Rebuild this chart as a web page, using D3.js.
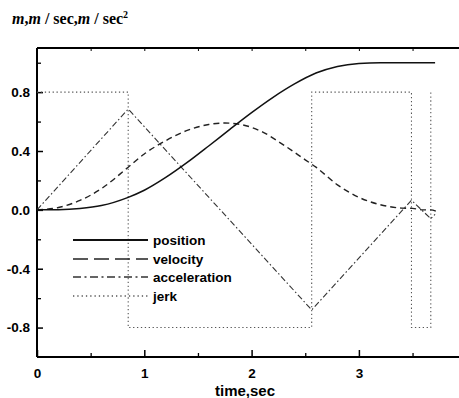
<!DOCTYPE html>
<html><head><meta charset="utf-8">
<script src="https://cdn.jsdelivr.net/npm/d3@7"></script>
<style>body{margin:0;background:#fff}svg{display:block}</style>
</head><body>
<svg id="c" width="459" height="398"></svg>
<script>
// ---- data ----
const seriesNames = ["position", "velocity", "acceleration", "jerk"];
const xTickValues = [0, 1, 2, 3];
const xTickLabels = ["0", "1", "2", "3"];
const yTickValues = [-0.8, -0.4, 0.0, 0.4, 0.8];
const yTickLabels = ["-0.8", "-0.4", "0.0", "0.4", "0.8"];

const tPosition = [0, 0.2, 0.4, 0.6, 0.85, 1.0, 1.2, 1.4, 1.6, 1.8, 2.0, 2.2, 2.4, 2.6, 2.8, 3.0, 3.2, 3.4, 3.71];
const position  = [0, 0.001, 0.009, 0.029, 0.085, 0.133, 0.22, 0.322, 0.434, 0.549, 0.661, 0.765, 0.856, 0.93, 0.975, 0.995, 1.0, 1.0, 1.0];

const tVelocity = [0, 0.2, 0.4, 0.6, 0.85, 1.0, 1.2, 1.4, 1.6, 1.75, 1.9, 2.1, 2.3, 2.5, 2.6, 2.8, 3.0, 3.2, 3.4, 3.5, 3.6, 3.67, 3.72];
const velocity  = [0, 0.016, 0.064, 0.144, 0.29, 0.38, 0.47, 0.54, 0.58, 0.59, 0.58, 0.53, 0.44, 0.34, 0.29, 0.17, 0.085, 0.035, 0.012, 0.01, 0.0, 0.0, -0.01];

const tAcceleration = [0, 0.85, 2.56, 3.49, 3.67, 3.71];
const acceleration  = [0, 0.685, -0.68, 0.065, -0.06, -0.03];

const tJerk = [0, 0.85, 0.85, 2.56, 2.56, 3.49, 3.49, 3.67, 3.67];
const jerk  = [0.8, 0.8, -0.8, -0.8, 0.8, 0.8, -0.8, -0.8, 0.8];

// ---- layout ----
const svg = d3.select("#c");
const L = 37, T = 48, B = 357;
const x = d3.scaleLinear().domain([0, 3.94]).range([L, L + 3.94 * 107.3]);
const y = d3.scaleLinear().domain([-1.0, 1.1]).range([B, T]);

const font = "'Liberation Sans', Arial, sans-serif";

// frame
svg.append("line").attr("x1", L).attr("x2", 460).attr("y1", T).attr("y2", T)
  .attr("stroke", "#000").attr("stroke-width", 1.8);

// axes
const xAxis = d3.axisBottom(x).tickValues(xTickValues).tickFormat((d, i) => xTickLabels[i])
  .tickSizeInner(-7).tickSizeOuter(0).tickPadding(11);
const gx = svg.append("g").attr("transform", `translate(0,${B})`).call(xAxis);
gx.select(".domain").attr("stroke", "#000").attr("stroke-width", 2).attr("d", `M${L},0H460`);
gx.selectAll(".tick line").attr("stroke", "#000").attr("stroke-width", 1.5);
gx.selectAll("text").attr("font-family", font).attr("font-weight", "bold").attr("font-size", 13.5).attr("fill", "#000");

const xMinor = d3.axisBottom(x).tickValues([0.5, 1.5, 2.5, 3.5]).tickFormat("").tickSizeInner(-4).tickSizeOuter(0);
const gxm = svg.append("g").attr("transform", `translate(0,${B})`).call(xMinor);
gxm.select(".domain").remove();
gxm.selectAll(".tick line").attr("stroke", "#000").attr("stroke-width", 1.3);

// top mirrored ticks
const xTop = d3.axisTop(x).tickValues([0.5, 1, 1.5, 2, 2.5, 3, 3.5]).tickFormat("").tickSizeInner(-3).tickSizeOuter(0);
const gxt = svg.append("g").attr("transform", `translate(0,${T})`).call(xTop);
gxt.select(".domain").remove();
gxt.selectAll(".tick line").attr("stroke", "#000").attr("stroke-width", 1);

const yAxis = d3.axisLeft(y).tickValues(yTickValues).tickFormat((d, i) => yTickLabels[i])
  .tickSizeInner(-6).tickSizeOuter(0).tickPadding(7);
const gy = svg.append("g").attr("transform", `translate(${L},0)`).call(yAxis);
gy.select(".domain").attr("stroke", "#000").attr("stroke-width", 2).attr("d", `M0,${T}V${B}`);
gy.selectAll(".tick line").attr("stroke", "#000").attr("stroke-width", 1.5);
gy.selectAll("text").attr("font-family", font).attr("font-weight", "bold").attr("font-size", 13.5).attr("fill", "#000");

const yMinor = d3.axisLeft(y).tickValues([-0.6, -0.2, 0.2, 0.6, 1.0]).tickFormat("").tickSizeInner(-4).tickSizeOuter(0);
const gym = svg.append("g").attr("transform", `translate(${L},0)`).call(yMinor);
gym.select(".domain").remove();
gym.selectAll(".tick line").attr("stroke", "#000").attr("stroke-width", 1.3);

// series
const mk = (ts, vs) => ts.map((t, i) => [t, vs[i]]);
const lineCurve = d3.line().x(d => x(d[0])).y(d => y(d[1])).curve(d3.curveMonotoneX);
const lineStraight = d3.line().x(d => x(d[0])).y(d => y(d[1]));

const styles = [
  {dash: null, w: 1.5, c: "#111", legDash: null},
  {dash: "6,4", w: 1.4, c: "#222", legDash: "15,6"},
  {dash: "6,2.5,1.5,2.5", w: 1.1, c: "#333", legDash: "8,3.5,2,3.5"},
  {dash: "1.3,2.6", w: 1.1, c: "#555", legDash: "1.3,3"}
];

const g = svg.append("g");
g.append("path").datum(mk(tJerk, jerk)).attr("d", lineStraight)
  .attr("fill", "none").attr("stroke", styles[3].c).attr("stroke-width", styles[3].w).attr("stroke-dasharray", styles[3].dash);
g.append("path").datum(mk(tAcceleration, acceleration)).attr("d", lineStraight)
  .attr("fill", "none").attr("stroke", styles[2].c).attr("stroke-width", styles[2].w).attr("stroke-dasharray", styles[2].dash);
g.append("path").datum(mk(tVelocity, velocity)).attr("d", lineCurve)
  .attr("fill", "none").attr("stroke", styles[1].c).attr("stroke-width", styles[1].w).attr("stroke-dasharray", styles[1].dash);
g.append("path").datum(mk(tPosition, position)).attr("d", lineCurve)
  .attr("fill", "none").attr("stroke", styles[0].c).attr("stroke-width", styles[0].w);

// legend
const legY = [240, 259, 277, 296];
seriesNames.forEach((name, i) => {
  svg.append("line").attr("x1", 73).attr("x2", 148).attr("y1", legY[i]).attr("y2", legY[i])
    .attr("stroke", styles[i].c).attr("stroke-width", i === 0 ? 1.8 : styles[i].w + 0.3)
    .attr("stroke-dasharray", styles[i].legDash);
  svg.append("text").attr("x", 153).attr("y", legY[i] + 5).text(name)
    .attr("font-family", font).attr("font-weight", "bold").attr("font-size", 13.5).attr("fill", "#000");
});

// axis titles
svg.append("text").attr("x", 245).attr("y", 396).attr("text-anchor", "middle")
  .attr("font-family", font).attr("font-weight", "bold").attr("font-size", 15).attr("fill", "#000")
  .text("time,sec");

const title = svg.append("text").attr("x", 12).attr("y", 24)
  .attr("font-family", "'Liberation Serif', 'Times New Roman', serif").attr("font-weight", "bold")
  .attr("font-size", 16).attr("fill", "#000");
title.append("tspan").attr("font-style", "italic").text("m");
title.append("tspan").text(",");
title.append("tspan").attr("font-style", "italic").text("m");
title.append("tspan").text(" / sec,");
title.append("tspan").attr("font-style", "italic").text("m");
title.append("tspan").text(" / sec");
title.append("tspan").attr("font-size", 10).attr("dy", -6).text("2");
</script>
</body></html>
